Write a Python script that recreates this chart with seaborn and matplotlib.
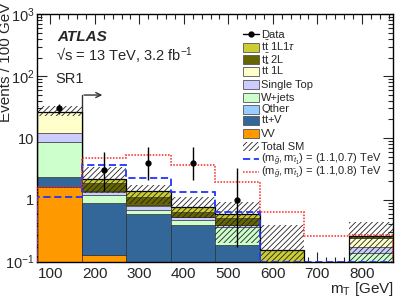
import numpy as np
import pandas as pd
import matplotlib
matplotlib.use('Agg')
import matplotlib.pyplot as plt
import seaborn as sns
from matplotlib.lines import Line2D
from matplotlib.patches import Rectangle
from matplotlib.ticker import MultipleLocator, LogLocator, FixedLocator, FuncFormatter, NullFormatter

# binning in mT [GeV]
edges = [70, 170, 270, 370, 470, 570, 670, 770, 870]
centers = [120, 220, 320, 420, 520, 620, 720, 820]

# background yields per bin
tt_1l1tau = [0.20, 0.30, 0.28, 0.13, 0.09, 0.155, 0.0, 0.0]
tt_2l = [0.30, 0.45, 0.29, 0.11, 0.11, 0.0, 0.0, 0.024]
tt_1l = [14.1, 0.05, 0.03, 0.01, 0.0, 0.0, 0.0, 0.065]
single_top = [3.2, 0.15, 0.12, 0.05, 0.02, 0.0, 0.0, 0.038]
wjets = [6.32, 0.31, 0.08, 0.075, 0.184, 0.0, 0.0, 0.136]
other = [0.02, 0.01, 0.01, 0.005, 0.0, 0.0, 0.0, 0.0]
ttv = [0.76, 0.75, 0.59, 0.39, 0.186, 0.0, 0.0, 0.0]
vv = [1.6, 0.13, 0.0, 0.0, 0.0, 0.0, 0.0, 0.0]

# total SM uncertainty band
band_lo = [23.0, 1.3, 0.85, 0.5, 0.2, 0.05, np.nan, 0.05]
band_hi = [33.0, 3.35, 1.73, 1.1, 0.93, 0.39, np.nan, 0.44]

# data with Poisson errors
data = [30, 3, 4, 4, 1, np.nan, np.nan, np.nan]
data_lo = [24.6, 1.37, 2.08, 2.08, 0.173, np.nan, np.nan, np.nan]
data_hi = [36.1, 5.92, 7.16, 7.16, 3.30, np.nan, np.nan, np.nan]

# signal benchmarks
sig_07 = [1.12, 3.65, 2.23, 1.35, 0.64, 0.1, 0.1, 0.1]
sig_08 = [1.59, 4.7, 5.4, 3.6, 1.92, 0.64, 0.26, 0.27]

proc_names = ['tt1L1tau', 'tt2L', 'tt1L', 'SingleTop', 'Wjets', 'Other', 'ttV', 'VV']
proc_labels = [r'$\mathrm{t\bar{t}}$ 1L1$\tau$', r'$\mathrm{t\bar{t}}$ 2L', r'$\mathrm{t\bar{t}}$ 1L',
               'Single Top', 'W+jets', 'Other', r'$\mathrm{t\bar{t}}$+V', 'VV']
proc_colors = ['#cccc33', '#666600', '#ffffcc', '#ccccff', '#ccffcc', '#99ccff', '#336699', '#ff9900']
yields = [tt_1l1tau, tt_2l, tt_1l, single_top, wjets, other, ttv, vv]

sns.set_style('ticks')
plt.rcParams['font.family'] = ['Liberation Sans', 'DejaVu Sans']
plt.rcParams['mathtext.fontset'] = 'custom'
plt.rcParams['mathtext.rm'] = 'Liberation Sans'
plt.rcParams['mathtext.it'] = 'Liberation Sans:italic'
plt.rcParams['mathtext.bf'] = 'Liberation Sans:bold'
plt.rcParams['hatch.linewidth'] = 0.6

rows = []
for name, vals in zip(proc_names, yields):
    for c, v in zip(centers, vals):
        rows.append({'mt': c, 'w': v, 'proc': name})
df = pd.DataFrame(rows)

W, H = 415, 298
fig = plt.figure(figsize=(W / 100, H / 100), dpi=100)
ax = fig.add_axes([37 / W, 1 - 261.7 / H, 356 / W, (261.7 - 14.3) / H])

sns.histplot(data=df, x='mt', weights='w', hue='proc', hue_order=proc_names,
             palette=dict(zip(proc_names, proc_colors)), multiple='stack', bins=edges,
             element='bars', alpha=1, edgecolor='#222222', linewidth=0.4, legend=False, ax=ax)

ax.set_yscale('log')

# arrow showing the selection
ax.plot([170, 170], [0.1, 49.5], color='#333333', lw=1, zorder=0.5)
ax.annotate('', xy=(223, 49.5), xytext=(169.5, 49.5),
            arrowprops=dict(arrowstyle='->', color='#333333', lw=1, mutation_scale=9))

# total SM line and uncertainty band
total = np.sum(np.array(yields), axis=0)
tot_plot = np.where(total > 0, total, np.nan)
ax.stairs(tot_plot, edges, color='black', lw=0.9, zorder=3)
ax.bar(centers, np.array(band_hi) - np.array(band_lo), bottom=band_lo, width=100,
       fill=False, hatch='//////', edgecolor='#222222', linewidth=0, zorder=4)

# signals
ax.stairs(sig_07, edges, color='#2233ff', lw=1.3, linestyle=(0, (4, 2)), zorder=5)
ax.stairs(sig_08, edges, color='#ff2222', lw=1.1, linestyle=(0, (1, 1)), zorder=5)

# data
d = np.array(data)
yerr = [d - np.array(data_lo), np.array(data_hi) - d]
ax.errorbar(centers, data, yerr=yerr, fmt='o', color='black', ms=3.5, lw=1, capsize=0, zorder=6)

ax.set_xlim(70, 870)
ax.set_ylim(0.1, 1000)

ax.xaxis.set_major_locator(FixedLocator([100, 200, 300, 400, 500, 600, 700, 800]))
ax.xaxis.set_minor_locator(MultipleLocator(20))
ax.yaxis.set_major_locator(FixedLocator([0.1, 1, 10, 100, 1000]))
ax.yaxis.set_minor_locator(LogLocator(base=10, subs=np.arange(2, 10), numticks=20))
ax.yaxis.set_minor_formatter(NullFormatter())
ylabels = {0.1: r'$10^{-1}$', 1: '1', 10: '10', 100: r'$10^{2}$', 1000: r'$10^{3}$'}
ax.yaxis.set_major_formatter(FuncFormatter(lambda v, p: ylabels.get(round(v, 3), '')))
ax.tick_params(which='both', direction='in', top=True, right=True, labelsize=11, width=0.8)
ax.tick_params(which='major', length=7)
ax.tick_params(which='minor', length=3.5)
ax.tick_params(axis='x', which='major', pad=4)
ax.tick_params(axis='y', which='major', pad=2, labelsize=10.5)
for s in ax.spines.values():
    s.set_linewidth(1)
    s.set_color('black')

ax.set_xlabel('')
ax.set_ylabel('')
fig.text(394 / W, 1 - 280.5 / H, r'$\mathrm{m_T}$ [GeV]', fontsize=11, ha='right', va='top')
fig.text(6.5 / W, 1 - 3 / H, 'Events / 100 GeV', fontsize=11, rotation=90, ha='center', va='top')

ax.text(0.058, 0.91, 'ATLAS', transform=ax.transAxes, fontsize=11, fontweight='bold',
        fontstyle='italic', va='center')
ax.text(0.052, 0.83, '\u221as = 13 TeV, 3.2 fb$^{-1}$', transform=ax.transAxes, fontsize=10.5, va='center')
ax.text(0.052, 0.74, 'SR1', transform=ax.transAxes, fontsize=10.5, va='center')

# legend, laid out by hand in figure pixels
def fx(px):
    return px / W

def fy(px):
    return 1 - px / H

row_y = [34.3, 47.3, 60, 71.7, 84.3, 97.3, 109, 121, 133.3, 146, 158.5, 172]
box_x0, box_x1, text_x = 243, 259, 261
leg_labels = ['Data'] + proc_labels + ['Total SM',
              r'$(\mathrm{m}_{\tilde{g}},\mathrm{m}_{\tilde{t}_1})$ = (1.1,0.7) TeV',
              r'$(\mathrm{m}_{\tilde{g}},\mathrm{m}_{\tilde{t}_1})$ = (1.1,0.8) TeV']
for i, (y, lab) in enumerate(zip(row_y, leg_labels)):
    if i == 0:
        fig.add_artist(Line2D([fx(box_x0), fx(box_x1)], [fy(y), fy(y)], color='black', lw=1))
        fig.add_artist(Line2D([fx((box_x0 + box_x1) / 2)], [fy(y)], color='black', marker='o', ms=3.5))
    elif i <= 8:
        fig.add_artist(Rectangle((fx(box_x0), fy(y + 4.5)), fx(box_x1 - box_x0), 9 / H,
                                 facecolor=proc_colors[i - 1], edgecolor='#555555', lw=0.6))
    elif i == 9:
        fig.add_artist(Rectangle((fx(box_x0), fy(y + 4.5)), fx(box_x1 - box_x0), 9 / H,
                                 facecolor='white', edgecolor='#222222', hatch='//////', lw=0))
    elif i == 10:
        fig.add_artist(Line2D([fx(box_x0), fx(box_x1)], [fy(y), fy(y)], color='#2233ff', lw=1.3,
                              linestyle=(0, (4, 2))))
    else:
        fig.add_artist(Line2D([fx(box_x0), fx(box_x1)], [fy(y), fy(y)], color='#ff2222', lw=1.1,
                              linestyle=(0, (1, 1))))
    fig.text(fx(text_x), fy(y + 3.5), lab, fontsize=8, va='baseline', ha='left')

fig.savefig('out.png', dpi=100)
